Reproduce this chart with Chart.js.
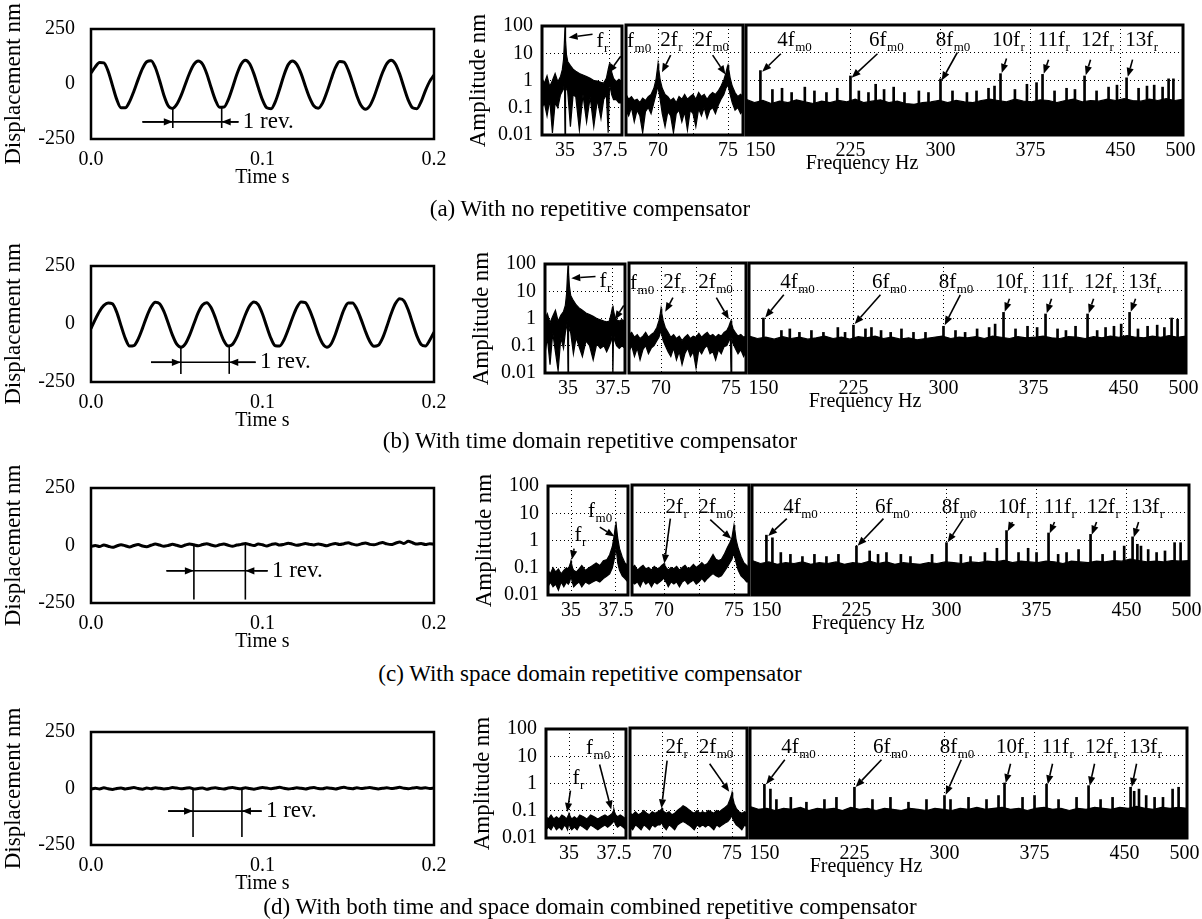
<!DOCTYPE html>
<html><head><meta charset="utf-8">
<script src="https://cdn.jsdelivr.net/npm/chart.js@4.4.0/dist/chart.umd.min.js"></script>
<style>
html,body{margin:0;padding:0;background:#fff;}
#page{position:relative;width:1202px;height:919px;overflow:hidden;background:#fff;font-family:"Liberation Serif","Times New Roman",serif;color:#000;}
canvas{position:absolute;}
.txt{position:absolute;white-space:nowrap;transform:translate(-50%,-50%);line-height:1;}
</style></head><body><div id="page"></div>
<script>
// ---------------- DATA ----------------
const TIME = [0,0.0025,0.005,0.0075,0.01,0.0125,0.015,0.0175,0.02,0.0225,0.025,0.0275,0.03,0.0325,0.035,0.0375,0.04,0.0425,0.045,0.0475,0.05,0.0525,0.055,0.0575,0.06,0.0625,0.065,0.0675,0.07,0.0725,0.075,0.0775,0.08,0.0825,0.085,0.0875,0.09,0.0925,0.095,0.0975,0.1,0.1025,0.105,0.1075,0.11,0.1125,0.115,0.1175,0.12,0.1225,0.125,0.1275,0.13,0.1325,0.135,0.1375,0.14,0.1425,0.145,0.1475,0.15,0.1525,0.155,0.1575,0.16,0.1625,0.165,0.1675,0.17,0.1725,0.175,0.1775,0.18,0.1825,0.185,0.1875,0.19,0.1925,0.195,0.1975,0.2];
const TIME_TICKS = [0, 0.1, 0.2];
const TIME_TICK_LABELS = ['0.0', '0.1', '0.2'];
const DISP_TICKS = [-250, 0, 250];

const DISP_A = [50,78,98,96,58,-6,-70,-108,-108,-80,-33,21,70,101,106,75,16,-51,-99,-111,-93,-53,-1,50,89,105,91,47,-15,-72,-106,-105,-72,-17,43,90,108,92,46,-15,-72,-108,-112,-80,-23,40,88,105,89,47,-10,-63,-100,-110,-87,-38,21,74,102,99,63,7,-53,-98,-115,-100,-59,-3,52,93,108,91,45,-16,-73,-108,-112,-80,-30,12,40];
const DISP_B = [-20,20,55,80,91,87,51,-7,-62,-95,-93,-65,-19,32,73,94,87,54,4,-48,-87,-100,-86,-48,1,49,82,92,71,27,-27,-72,-95,-88,-57,-10,40,78,95,83,43,-12,-63,-94,-95,-69,-24,27,71,95,92,60,11,-43,-84,-100,-86,-44,11,62,91,91,65,20,-31,-74,-96,-92,-61,-11,44,88,109,100,60,4,-51,-88,-95,-70,-35];
const DISP_C = [-5,0,-4,2,-3,-8,-2,3,-1,-6,0,4,-2,-5,1,6,2,-3,0,5,1,-4,2,7,3,-1,4,8,2,-2,3,6,1,-3,2,5,9,4,0,6,3,-2,4,8,2,5,10,6,1,4,9,5,2,7,3,-1,5,9,4,8,12,6,2,7,11,5,3,8,13,7,4,10,15,9,18,12,6,9,4,8,5];
const DISP_D = [-3,1,-2,3,-1,-4,0,2,-2,1,4,0,-3,2,-1,3,1,-2,0,4,2,-1,1,3,-2,0,2,-3,1,3,0,-2,2,4,1,-1,3,0,-3,1,4,2,-1,2,5,1,-2,0,3,1,-2,2,4,0,-1,3,1,-2,2,5,1,-1,3,0,2,4,1,-2,1,3,0,2,5,1,-1,2,4,1,3,0,2];

const AMP_TICKS = [0.01, 0.1, 1, 10, 100];
const AMP_TICK_LABELS = ['0.01', '0.1', '1', '10', '100'];

const F1 = [33.72,33.85,34.0,34.15,34.3,34.45,34.6,34.75,34.85,34.92,34.97,35.0,35.03,35.08,35.15,35.3,35.45,35.6,35.8,36.0,36.2,36.4,36.6,36.8,37.0,37.15,37.3,37.4,37.47,37.5,37.53,37.6,37.7,37.85,38.0,38.17];
const F2 = [67.71,67.9,68.1,68.3,68.5,68.7,68.9,69.1,69.3,69.5,69.7,69.85,69.95,70.0,70.05,70.15,70.3,70.5,70.7,70.9,71.1,71.3,71.5,71.7,71.9,72.1,72.3,72.5,72.7,72.9,73.1,73.3,73.5,73.7,73.9,74.1,74.3,74.5,74.7,74.85,74.95,75.0,75.05,75.15,75.3,75.5,75.7,75.9,76.07];
const F3 = [138,145,152,159,166,173,180,187,194,201,208,215,222,229,236,243,250,257,264,271,278,285,292,299,306,313,320,327,334,341,348,355,362,369,376,383,390,397,404,411,418,425,432,439,446,453,460,467,474,481,488,495,502];

const X1_TICKS = [35, 37.5], X1_LABELS = ['35', '37.5'];
const X2_TICKS = [70, 72.5, 75], X2_LABELS = ['70', '', '75'];
const X3_TICKS = [150, 225, 300, 375, 450, 500], X3_LABELS = ['150', '225', '300', '375', '450', '500'];
const X3_GRID = [225, 300, 375, 450];

// (a) no compensator
const A1_UP = [1.2,0.8,1.5,0.6,1.0,1.8,0.9,1.4,2.5,6,30,95,30,9,5,3.5,2.6,2.2,1.8,1.6,1.4,1.2,1.0,0.95,0.85,0.8,1.2,2.5,4,4.5,3.5,2,1.2,0.9,1.1,0.9];
const A1_LO = [0.1,0.15,0.05,0.2,0.012,0.15,0.1,0.3,0.4,0.5,0.8,0.01,0.6,0.5,0.4,0.02,0.3,0.25,0.015,0.3,0.03,0.25,0.02,0.2,0.04,0.2,0.3,0.012,0.5,0.6,0.5,0.3,0.2,0.2,0.15,0.15];
const A2_UP = [0.3,0.2,0.25,0.18,0.2,0.15,0.22,0.18,0.25,0.3,0.5,1.0,2.5,4,2.5,1.0,0.5,0.3,0.25,0.18,0.22,0.15,0.25,0.2,0.3,0.2,0.25,0.3,0.2,0.35,0.25,0.3,0.2,0.28,0.35,0.3,0.4,0.6,1.0,1.8,3,3.5,2.5,1.2,0.6,0.35,0.25,0.3,0.25];
const A2_LO = [0.08,0.05,0.1,0.03,0.08,0.05,0.012,0.07,0.1,0.06,0.15,0.3,0.5,0.6,0.4,0.2,0.06,0.02,0.07,0.05,0.012,0.06,0.08,0.03,0.07,0.015,0.08,0.06,0.02,0.09,0.05,0.1,0.04,0.08,0.1,0.06,0.12,0.2,0.3,0.5,0.6,0.7,0.5,0.3,0.15,0.08,0.1,0.06,0.08];
const A3_UP = [0.2,0.15,0.18,0.14,0.17,0.15,0.19,0.16,0.14,0.17,0.15,0.18,0.16,0.2,0.15,0.17,0.19,0.15,0.17,0.14,0.13,0.15,0.16,0.18,0.15,0.18,0.16,0.15,0.18,0.2,0.18,0.16,0.2,0.17,0.16,0.19,0.18,0.15,0.18,0.2,0.16,0.18,0.17,0.2,0.18,0.21,0.18,0.17,0.2,0.18,0.21,0.18,0.2];
const A3_SPK_F = [150,160,168,176,187,195,205,214,225,232,240,246,253,261,270,282,290,300,310,322,330,340,345,350,362,372,380,385,395,405,412,420,430,440,447,455,465,472,478,485,490,494];
const A3_SPK_V = [2.2,0.45,0.5,0.35,0.55,0.4,0.35,0.5,1.4,0.4,0.35,0.7,0.45,0.55,0.35,0.4,0.35,1.1,0.4,0.35,0.4,0.5,0.6,1.7,0.45,0.7,0.8,1.6,0.4,0.5,0.45,1.4,0.4,0.55,0.65,1.2,0.5,0.6,0.65,0.55,1.1,1.1];

// (b) time domain compensator
const B1_UP = [1.0,1.5,0.7,1.2,2.0,0.8,1.3,1.8,3,8,40,90,50,15,7,4.5,3.2,2.5,2,1.6,1.4,1.2,1.0,0.9,0.8,0.75,0.8,1.5,2.5,3,2,1.2,0.9,0.8,0.9,0.8];
const B1_LO = [0.05,0.2,0.02,0.3,0.06,0.012,0.2,0.08,0.3,0.5,0.8,0.01,0.6,0.4,0.3,0.05,0.2,0.1,0.04,0.15,0.1,0.03,0.12,0.08,0.1,0.06,0.1,0.15,0.3,0.01,0.3,0.15,0.1,0.08,0.1,0.08];
const B2_UP = [0.25,0.3,0.2,0.25,0.18,0.22,0.3,0.2,0.25,0.3,0.45,0.8,1.5,2.2,1.5,0.8,0.45,0.3,0.2,0.25,0.18,0.22,0.15,0.2,0.25,0.18,0.22,0.2,0.28,0.2,0.25,0.3,0.22,0.25,0.2,0.25,0.22,0.3,0.35,0.5,0.7,0.8,0.6,0.4,0.3,0.22,0.25,0.2,0.22];
const B2_LO = [0.06,0.1,0.04,0.08,0.03,0.07,0.1,0.05,0.08,0.1,0.15,0.2,0.3,0.35,0.25,0.15,0.1,0.06,0.04,0.08,0.03,0.06,0.02,0.05,0.08,0.04,0.06,0.015,0.07,0.05,0.08,0.1,0.05,0.06,0.03,0.07,0.05,0.09,0.1,0.15,0.2,0.01,0.2,0.12,0.08,0.05,0.07,0.04,0.06];
const B3_UP = [0.22,0.18,0.2,0.17,0.21,0.18,0.2,0.17,0.19,0.22,0.18,0.2,0.17,0.21,0.19,0.22,0.18,0.2,0.17,0.19,0.16,0.18,0.2,0.22,0.18,0.2,0.19,0.21,0.18,0.22,0.2,0.18,0.21,0.19,0.2,0.22,0.19,0.18,0.21,0.2,0.18,0.21,0.19,0.22,0.2,0.23,0.2,0.19,0.22,0.2,0.23,0.2,0.22];
const B3_SPK_F = [150,165,172,180,190,200,212,218,225,235,240,248,256,265,275,285,300,310,318,328,338,343,350,360,370,378,385,395,402,410,420,428,435,442,448,455,462,470,478,484,490,495];
const B3_SPK_V = [1.0,0.35,0.4,0.3,0.35,0.3,0.45,0.3,0.55,0.4,0.45,0.35,0.3,0.4,0.3,0.3,0.5,0.35,0.3,0.4,0.45,0.6,1.6,0.4,0.5,0.45,1.4,0.4,0.35,0.5,1.4,0.35,0.45,0.5,0.6,1.6,0.4,0.5,0.55,0.45,1.0,0.9];

// (c) space domain compensator
const C1_UP = [0.08,0.06,0.1,0.07,0.09,0.06,0.08,0.1,0.09,0.12,0.15,0.18,0.14,0.1,0.08,0.07,0.09,0.12,0.08,0.1,0.12,0.15,0.12,0.18,0.2,0.3,0.6,1.5,3.5,5,3,1.2,0.5,0.25,0.15,0.12];
const C1_LO = [0.02,0.03,0.02,0.025,0.015,0.03,0.02,0.03,0.025,0.03,0.04,0.05,0.04,0.03,0.02,0.025,0.03,0.02,0.03,0.025,0.03,0.035,0.03,0.04,0.05,0.06,0.1,0.2,0.4,0.5,0.4,0.15,0.08,0.05,0.04,0.03];
const C2_UP = [0.1,0.12,0.08,0.1,0.12,0.09,0.1,0.08,0.11,0.09,0.1,0.12,0.13,0.14,0.12,0.1,0.08,0.1,0.09,0.11,0.08,0.1,0.12,0.09,0.1,0.13,0.1,0.12,0.15,0.12,0.14,0.2,0.3,0.2,0.18,0.2,0.3,0.5,0.8,1.2,2.5,3.5,2.5,1.0,0.5,0.25,0.15,0.12,0.1];
const C2_LO = [0.03,0.025,0.03,0.02,0.035,0.025,0.03,0.02,0.03,0.025,0.03,0.035,0.04,0.04,0.035,0.03,0.02,0.03,0.025,0.03,0.02,0.03,0.035,0.025,0.03,0.035,0.025,0.03,0.04,0.03,0.04,0.05,0.06,0.05,0.045,0.05,0.07,0.1,0.15,0.2,0.3,0.3,0.25,0.15,0.08,0.05,0.04,0.03,0.03];
const C3_UP = [0.18,0.14,0.16,0.13,0.15,0.14,0.16,0.13,0.15,0.14,0.16,0.13,0.15,0.14,0.17,0.14,0.16,0.13,0.15,0.14,0.13,0.15,0.14,0.16,0.15,0.14,0.16,0.15,0.17,0.16,0.18,0.15,0.17,0.16,0.15,0.17,0.16,0.14,0.17,0.16,0.15,0.17,0.16,0.18,0.17,0.2,0.18,0.16,0.17,0.16,0.18,0.17,0.18];
const C3_SPK_F = [150,155,162,170,180,190,200,210,225,236,243,250,262,270,288,300,312,320,332,342,350,360,368,375,385,393,400,410,420,430,440,448,455,459,462,468,475,482,490,495];
const C3_SPK_V = [1.5,1.2,0.35,0.3,0.25,0.3,0.25,0.3,0.6,0.4,0.3,0.35,0.3,0.25,0.3,0.8,0.3,0.25,0.35,0.5,2.2,0.35,0.5,0.35,1.8,0.3,0.35,0.45,1.6,0.3,0.4,0.6,1.3,0.7,0.6,0.45,0.35,0.4,0.8,0.8];

// (d) combined compensator
const D1_UP = [0.06,0.05,0.07,0.05,0.06,0.05,0.07,0.06,0.05,0.06,0.07,0.08,0.07,0.06,0.05,0.06,0.05,0.07,0.06,0.05,0.07,0.06,0.05,0.06,0.07,0.06,0.07,0.08,0.1,0.11,0.09,0.07,0.06,0.07,0.06,0.05];
const D1_LO = [0.02,0.025,0.02,0.03,0.02,0.025,0.02,0.03,0.025,0.02,0.03,0.035,0.03,0.025,0.02,0.025,0.02,0.03,0.025,0.02,0.03,0.025,0.02,0.025,0.03,0.025,0.03,0.035,0.04,0.045,0.04,0.03,0.025,0.03,0.025,0.02];
const D2_UP = [0.08,0.07,0.09,0.07,0.08,0.1,0.08,0.07,0.09,0.08,0.09,0.1,0.11,0.12,0.1,0.09,0.08,0.09,0.07,0.08,0.1,0.12,0.15,0.13,0.11,0.09,0.08,0.1,0.08,0.09,0.08,0.1,0.09,0.08,0.1,0.09,0.11,0.13,0.16,0.25,0.35,0.45,0.3,0.18,0.12,0.09,0.08,0.09,0.08];
const D2_LO = [0.025,0.02,0.03,0.025,0.02,0.03,0.025,0.02,0.03,0.025,0.03,0.03,0.035,0.035,0.03,0.025,0.02,0.03,0.025,0.02,0.03,0.035,0.04,0.035,0.03,0.025,0.02,0.03,0.025,0.03,0.025,0.03,0.025,0.02,0.03,0.025,0.03,0.035,0.04,0.05,0.06,0.07,0.05,0.04,0.03,0.025,0.02,0.03,0.025];
const D3_UP = [0.14,0.11,0.12,0.1,0.12,0.11,0.13,0.1,0.12,0.11,0.12,0.1,0.13,0.11,0.12,0.1,0.12,0.11,0.1,0.12,0.11,0.1,0.12,0.11,0.1,0.12,0.11,0.13,0.11,0.12,0.13,0.11,0.12,0.1,0.12,0.13,0.11,0.12,0.1,0.12,0.11,0.13,0.12,0.11,0.13,0.12,0.14,0.12,0.11,0.13,0.12,0.13,0.12];
const D3_SPK_F = [150,155,160,172,185,200,210,225,240,255,270,285,300,305,320,335,345,350,365,375,385,395,410,420,430,440,455,458,462,468,475,482,490,495];
const D3_SPK_V = [0.9,0.6,0.25,0.3,0.2,0.25,0.3,0.7,0.25,0.3,0.2,0.25,0.35,0.25,0.3,0.25,0.35,1.0,0.3,0.35,0.9,0.25,0.3,0.8,0.25,0.3,0.7,0.5,0.6,0.35,0.3,0.3,0.6,0.7];

const CAPTIONS = ['(a) With no repetitive compensator', '(b) With time domain repetitive compensator', '(c) With space domain repetitive compensator', '(d) With both time and space domain combined repetitive compensator'];

// ---------------- LAYOUT ----------------
const SERIF = '"Liberation Serif", "Times New Roman", serif';
Chart.defaults.font.family = SERIF;
Chart.defaults.color = '#000';
const TIME_TOP = [29, 266, 488, 732];
const TIME_H = [110, 116, 115, 113];
const SPEC_TOP = [25, 263, 485, 728];
const SPEC_H = 110;
const SPEC_DX = [0, 3, 6, 4];
const CAP_Y = [208, 440, 673, 906];
const CAP_X = 590;

// annotation helpers (data coordinates)
const T = (main, sub, x, y) => ({k: 't', main, sub, x, y});
const A = (x1, y1, x2, y2) => ({k: 'a', x1, y1, x2, y2});
const L = (x1, y1, x2, y2) => ({k: 'l', x1, y1, x2, y2});
function rev(m1, m2, yTop1, yTop2, yBot, ay, tl, tr, tx) {
  return [L(m1, yTop1, m1, yBot), L(m2, yTop2, m2, yBot), L(tl, ay, tr, ay),
          A(tl, ay, m1, ay), A(tr, ay, m2, ay), {k: 't', main: '1 rev.', x: tx, y: ay, mid: true, size: 23}];
}
const REV = [
  rev(0.0477, 0.0762, -110, -108, -200, -172, 0.030, 0.086, 0.0885),
  rev(0.0524, 0.0806, -100, -96, -215, -165, 0.035, 0.096, 0.0985),
  rev(0.060, 0.090, 2, 4, -235, -110, 0.044, 0.103, 0.1055),
  rev(0.0595, 0.088, 0, 1, -215, -100, 0.045, 0.0995, 0.102)
];
const ANN = [
  [
    [T('f','r',36.75,17), A(36.53,50,35.2,38), T('f','m0',38.45,17), A(38.1,7.7,37.42,1.9)],
    [T('2f','r',70.15,17), A(70.9,8,70.28,1.9), T('2f','m0',72.6,17), A(73.9,8,74.82,1.6)],
    [T('4f','m0',164,17), A(167,9,151.5,2.0), T('6f','m0',240.5,17), A(247.5,9,226,1.2), T('8f','m0',296,17), A(314,10,301,0.95),
     T('10f','r',343,17), A(355,6,351,1.8), T('11f','r',381,17), A(390,5.5,386,1.7), T('12f','r',417,17), A(425,5.5,421,1.5), T('13f','r',454,17), A(460,5.5,456,1.3)]
  ],
  [
    [T('f','r',36.75,14), A(36.53,35,35.18,30), T('f','m0',38.45,12), A(38.1,3,37.6,0.9)],
    [T('2f','r',70.15,12), A(70.85,5.5,70.3,1.7), T('2f','m0',72.65,12), A(73.95,5.5,74.85,0.9)],
    [T('4f','m0',164,12), A(167,7,151.5,1.05), T('6f','m0',240.5,12), A(247.5,7,226,0.6), T('8f','m0',296,12), A(314,7,301,0.55),
     T('10f','r',343,12), A(355,5,351,1.7), T('11f','r',381,12), A(390,5,386,1.5), T('12f','r',417,12), A(425,5,421,1.5), T('13f','r',454,12), A(460,5,456,1.7)]
  ],
  [
    [T('f','m0',35.95,7.5), A(36.6,3.1,37.42,1.4), T('f','r',35.2,1.0), A(35.17,0.5,35.05,0.2)],
    [T('2f','r',70.1,10), A(70.45,6,70.02,0.14), T('2f','m0',72.45,10), A(73.3,5.5,74.8,1.1)],
    [T('4f','m0',164,10), A(167,6,151.5,1.4), T('6f','m0',240.5,10), A(247.5,6,226,0.62), T('8f','m0',296,10), A(314,6,301,0.82),
     T('10f','r',343,10), A(355,4.5,351,2.1), T('11f','r',381,10), A(390,4.5,386,1.75), T('12f','r',417,10), A(425,4.5,421,1.55), T('13f','r',454,10), A(460,4.5,456,1.25)]
  ],
  [
    [T('f','m0',35.95,12), A(36.7,5,37.35,0.11), T('f','r',35.2,1.0), A(35.08,0.55,34.9,0.09)],
    [T('2f','r',70.25,12), A(70.36,6.5,69.96,0.12), T('2f','m0',72.62,12), A(73.4,5,74.8,0.48)],
    [T('4f','m0',164,12), A(167,7,151.5,0.9), T('6f','m0',240.5,12), A(247.5,7,226,0.72), T('8f','m0',296,12), A(314,7,301,0.37),
     T('10f','r',343,12), A(355,5,351,1.0), T('11f','r',381,12), A(390,5,386,0.9), T('12f','r',417,12), A(425,5,421,0.8), T('13f','r',454,12), A(460,5,456,0.72)]
  ]
];

// ---------------- PLUGINS ----------------
function framePlugin(w) {
  return { id: 'frame', afterDatasetsDraw(chart) {
    const {ctx, chartArea: a} = chart;
    ctx.save(); ctx.strokeStyle = '#000'; ctx.lineWidth = w;
    ctx.strokeRect(a.left, a.top, a.right - a.left, a.bottom - a.top);
    ctx.restore();
  }};
}
function drawArrow(ctx, x1, y1, x2, y2) {
  const ang = Math.atan2(y2 - y1, x2 - x1), hl = 9, hw = 3.6;
  const bx = x2 - hl * Math.cos(ang), by = y2 - hl * Math.sin(ang);
  ctx.lineWidth = 1.6;
  ctx.beginPath(); ctx.moveTo(x1, y1); ctx.lineTo(bx, by); ctx.stroke();
  ctx.beginPath(); ctx.moveTo(x2, y2);
  ctx.lineTo(bx + hw * Math.sin(ang), by - hw * Math.cos(ang));
  ctx.lineTo(bx - hw * Math.sin(ang), by + hw * Math.cos(ang));
  ctx.closePath(); ctx.fill();
}
function marksPlugin(items) {
  return { id: 'marks', afterDraw(chart) {
    const {ctx, scales: {x, y}} = chart;
    const X = v => x.getPixelForValue(v), Y = v => y.getPixelForValue(v);
    ctx.save(); ctx.strokeStyle = '#000'; ctx.fillStyle = '#000';
    for (const it of items) {
      if (it.k === 'l') {
        ctx.lineWidth = 1.6; ctx.beginPath();
        ctx.moveTo(X(it.x1), Y(it.y1)); ctx.lineTo(X(it.x2), Y(it.y2)); ctx.stroke();
      } else if (it.k === 'a') {
        drawArrow(ctx, X(it.x1), Y(it.y1), X(it.x2), Y(it.y2));
      } else if (it.k === 't') {
        ctx.font = (it.size || 21) + 'px ' + SERIF;
        ctx.textAlign = 'left'; ctx.textBaseline = it.mid ? 'middle' : 'alphabetic';
        const px = X(it.x), py = Y(it.y);
        ctx.fillText(it.main, px, py);
        if (it.sub) {
          const w = ctx.measureText(it.main).width;
          ctx.font = '13px ' + SERIF;
          ctx.fillText(it.sub, px + w + 0.5, py + 5);
        }
      }
    }
    ctx.restore();
  }};
}

// ---------------- BUILD ----------------
const page = document.getElementById('page');
function mkCanvas(left, top, w, h) {
  const c = document.createElement('canvas');
  c.width = w; c.height = h;
  c.style.left = left + 'px'; c.style.top = top + 'px';
  c.style.width = w + 'px'; c.style.height = h + 'px';
  page.appendChild(c);
  return c;
}
function addText(text, x, y, size) {
  const d = document.createElement('div');
  d.className = 'txt'; d.textContent = text;
  d.style.left = x + 'px'; d.style.top = y + 'px'; d.style.fontSize = size + 'px';
  page.appendChild(d);
}
const labelOf = (ticks, labels) => v => { const i = ticks.indexOf(v); return i >= 0 ? labels[i] : ''; };

function timeChart(row, values) {
  const PT = 40, XH = 56, H = TIME_H[row];
  const c = mkCanvas(0, TIME_TOP[row] - PT, 470, PT + H + XH);
  new Chart(c, {
    type: 'line',
    data: { datasets: [{ data: TIME.map((t, i) => ({x: t, y: values[i]})), borderColor: '#000', borderWidth: 3,
      pointRadius: 0, cubicInterpolationMode: 'monotone', fill: false }] },
    options: {
      responsive: false, animation: false, devicePixelRatio: 1,
      layout: { padding: { top: PT, right: 36, left: 0, bottom: 0 } },
      plugins: { legend: { display: false }, tooltip: { enabled: false } },
      scales: {
        x: { type: 'linear', min: 0, max: 0.2, offset: false,
          afterBuildTicks: s => { s.ticks = TIME_TICKS.map(v => ({value: v})); },
          afterFit: s => { s.height = XH; },
          ticks: { callback: labelOf(TIME_TICKS, TIME_TICK_LABELS), font: { size: 20 }, padding: 1, maxRotation: 0, autoSkip: false },
          grid: { display: false }, border: { display: false },
          title: { display: true, text: 'Time s', font: { size: 20 }, padding: { top: 0, bottom: 5 } } },
        y: { type: 'linear', min: -250, max: 250,
          afterBuildTicks: s => { s.ticks = DISP_TICKS.map(v => ({value: v})); },
          afterFit: s => { s.width = 91; },
          ticks: { callback: v => String(v), font: { size: 20 }, padding: 8, autoSkip: false },
          grid: { display: false }, border: { display: false },
          title: { display: true, text: 'Displacement nm', font: { size: 23 }, padding: { top: 0, bottom: 0 } } }
      }
    },
    plugins: [framePlugin(2.5), marksPlugin(REV[row])]
  });
}

const PANELS = [
  { left: 440, width: 300, padL: 0, padR: 118, F: F1, xmin: 33.72, xmax: 38.17, ticks: X1_TICKS, labels: X1_LABELS, grid: X1_TICKS, showY: true },
  { left: 600, width: 180, padL: 26, padR: 37, F: F2, xmin: 67.71, xmax: 76.07, ticks: X2_TICKS, labels: X2_LABELS, grid: X2_TICKS, showY: false },
  { left: 720, width: 482, padL: 26, padR: 19, F: F3, xmin: 138, xmax: 502, ticks: X3_TICKS, labels: X3_LABELS, grid: X3_GRID, showY: false }
];
function specChart(row, p, up, lo, sf, sv, items) {
  const P = PANELS[p], PT = 20, XH = 44, top = SPEC_TOP[row];
  const c = mkCanvas(P.left + SPEC_DX[row], top - PT, P.width, PT + SPEC_H + XH);
  const ds = [{ type: 'line', data: P.F.map((f, i) => ({x: f, y: up[i]})), borderColor: '#000', backgroundColor: '#000',
    borderWidth: 1.2, pointRadius: 0, fill: lo ? '+1' : 'start' }];
  if (lo) ds.push({ type: 'line', data: P.F.map((f, i) => ({x: f, y: lo[i]})), borderColor: '#000', borderWidth: 1.2, pointRadius: 0, fill: false });
  if (sf) ds.push({ type: 'bar', data: sf.map((f, i) => ({x: f, y: sv[i]})), backgroundColor: '#000', barThickness: 2 });
  new Chart(c, {
    type: 'line',
    data: { datasets: ds },
    options: {
      responsive: false, animation: false, devicePixelRatio: 1,
      layout: { padding: { top: PT, right: P.padR, left: P.padL, bottom: 0 } },
      plugins: { legend: { display: false }, tooltip: { enabled: false } },
      scales: {
        x: { type: 'linear', min: P.xmin, max: P.xmax, offset: false,
          afterBuildTicks: s => { s.ticks = P.ticks.map(v => ({value: v})); },
          afterFit: s => { s.height = XH; },
          ticks: { callback: labelOf(P.ticks, P.labels), font: { size: 20 }, padding: 4, maxRotation: 0, autoSkip: false },
          grid: { offset: false, drawTicks: false, lineWidth: 1,
            color: ctx => (ctx.tick && P.grid.includes(ctx.tick.value)) ? '#000' : 'rgba(0,0,0,0)' },
          border: { display: false, dash: [1, 3] } },
        y: { type: 'logarithmic', min: 0.01, max: 100,
          afterBuildTicks: s => { s.ticks = AMP_TICKS.map(v => ({value: v})); },
          afterFit: s => { s.width = P.showY ? 102 : 0; },
          ticks: { display: P.showY, callback: labelOf(AMP_TICKS, AMP_TICK_LABELS), font: { size: 20 }, padding: 9, autoSkip: false },
          grid: { drawTicks: false, lineWidth: 1,
            color: ctx => (ctx.tick && ctx.tick.value > 0.01 && ctx.tick.value < 100) ? '#000' : 'rgba(0,0,0,0)' },
          border: { display: false, dash: [1, 3] },
          title: { display: P.showY, text: 'Amplitude nm', font: { size: 23 }, padding: { top: 25, bottom: 0 } } }
      }
    },
    plugins: [framePlugin(3), marksPlugin(items)]
  });
}

const DISP = [DISP_A, DISP_B, DISP_C, DISP_D];
const SPEC = [
  [[A1_UP, A1_LO], [A2_UP, A2_LO], [A3_UP, null, A3_SPK_F, A3_SPK_V]],
  [[B1_UP, B1_LO], [B2_UP, B2_LO], [B3_UP, null, B3_SPK_F, B3_SPK_V]],
  [[C1_UP, C1_LO], [C2_UP, C2_LO], [C3_UP, null, C3_SPK_F, C3_SPK_V]],
  [[D1_UP, D1_LO], [D2_UP, D2_LO], [D3_UP, null, D3_SPK_F, D3_SPK_V]]
];
for (let r = 0; r < 4; r++) {
  timeChart(r, DISP[r]);
  for (let p = 0; p < 3; p++) {
    const s = SPEC[r][p];
    specChart(r, p, s[0], s[1], s[2] || null, s[3] || null, ANN[r][p]);
  }
  addText('Frequency Hz', 862 + SPEC_DX[r], SPEC_TOP[r] + SPEC_H + 27, 20);
  addText(CAPTIONS[r], CAP_X, CAP_Y[r], 23);
}
</script>
</body></html>
